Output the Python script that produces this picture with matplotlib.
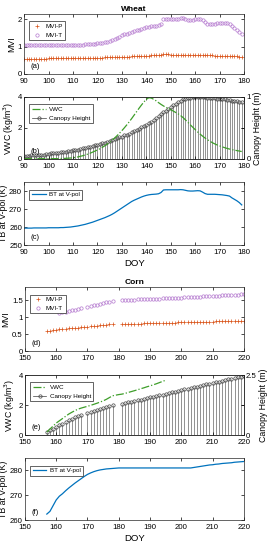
import numpy as np
import matplotlib
matplotlib.use('Agg')
import matplotlib.pyplot as plt
from matplotlib.lines import Line2D

plt.rcParams['font.family'] = ['Liberation Sans', 'DejaVu Sans']
plt.rcParams['xtick.direction'] = 'in'
plt.rcParams['ytick.direction'] = 'in'
plt.rcParams['xtick.major.size'] = 2
plt.rcParams['ytick.major.size'] = 2
plt.rcParams['xtick.major.width'] = 0.5
plt.rcParams['ytick.major.width'] = 0.5
plt.rcParams['axes.linewidth'] = 0.5
plt.rcParams['axes.edgecolor'] = '#262626'

nan = np.nan

# ---------------- Wheat (DOY 90..179) ----------------
wheat_doy = np.arange(90, 180)
wheat_mvi_p = [
    0.56, 0.56, 0.56, 0.56, 0.56, 0.56, 0.56, 0.56, 0.56, 0.56,
    0.57, 0.57, 0.57, 0.57, 0.57, 0.57, 0.57, 0.57, 0.58, 0.58,
    0.58, 0.58, 0.58, 0.58, 0.59, 0.59, 0.59, 0.59, 0.59, 0.60,
    0.60, 0.60, 0.60, 0.61, 0.61, 0.61, 0.62, 0.62, 0.62, 0.63,
    0.63, 0.63, 0.64, 0.64, 0.65, 0.65, 0.65, 0.66, 0.66, 0.67,
    0.67, 0.67, 0.68, 0.68, 0.68, 0.69, 0.69, 0.72, 0.72, 0.72,
    0.71, 0.71, 0.71, 0.71, 0.71, 0.71, 0.71, 0.70, 0.70, 0.70,
    0.70, 0.70, 0.70, 0.69, 0.69, 0.68, 0.68, 0.68, 0.67, 0.67,
    0.67, 0.67, 0.67, 0.66, 0.66, 0.66, 0.65, 0.65, 0.64, 0.63]
wheat_mvi_t = [
    1.05, 1.05, 1.05, 1.05, 1.05, 1.05, 1.05, 1.05, 1.05, 1.05,
    1.05, 1.05, 1.05, 1.06, 1.06, 1.06, 1.06, 1.07, 1.07, 1.07,
    1.07, 1.07, 1.08, 1.08, 1.08, 1.09, 1.09, 1.09, 1.10, 1.10,
    1.13, 1.14, 1.15, 1.16, 1.18, 1.22, 1.25, 1.29, 1.33, 1.37,
    1.42, 1.45, 1.48, 1.51, 1.54, 1.57, 1.60, 1.63, 1.66, 1.69,
    1.72, 1.74, 1.75, 1.76, 1.77, 1.78, 1.82, 2.03, 2.03, 2.02,
    2.02, 2.02, 2.02, 2.03, 2.04, 2.05, 2.02, 1.99, 1.97, 1.98,
    2.00, 2.02, 2.03, 1.97, 1.90, 1.84, 1.83, 1.83, 1.85, 1.87,
    1.88, 1.88, 1.87, 1.86, 1.84, 1.75, 1.68, 1.62, 1.55, 1.47]
wheat_vwc = [
    0.02, 0.02, 0.02, 0.02, 0.02, 0.02, 0.02, 0.02, 0.02, 0.02,
    0.02, 0.02, 0.02, 0.02, 0.02, 0.03, 0.03, 0.04, 0.05, 0.06,
    0.08, 0.10, 0.13, 0.17, 0.21, 0.26, 0.31, 0.37, 0.44, 0.51,
    0.58, 0.66, 0.75, 0.85, 0.96, 1.08, 1.21, 1.35, 1.50, 1.66,
    1.83, 2.01, 2.20, 2.40, 2.61, 2.83, 3.05, 3.27, 3.48, 3.68,
    3.85, 3.95, 3.93, 3.85, 3.75, 3.63, 3.52, 3.42, 3.33, 3.25,
    3.17, 3.09, 3.00, 2.91, 2.80, 2.67, 2.52, 2.36, 2.20, 2.04,
    1.89, 1.74, 1.60, 1.47, 1.35, 1.24, 1.14, 1.05, 0.97, 0.90,
    0.84, 0.78, 0.73, 0.68, 0.64, 0.60, 0.57, 0.54, 0.51, 0.48]
wheat_height = [
    0.05, 0.05, 0.05, 0.06, 0.06, 0.06, 0.07, 0.07, 0.07, 0.08,
    0.08, 0.09, 0.09, 0.10, 0.10, 0.11, 0.11, 0.12, 0.13, 0.13,
    0.14, 0.15, 0.15, 0.16, 0.17, 0.18, 0.19, 0.20, 0.21, 0.22,
    0.23, 0.24, 0.25, 0.26, 0.28, 0.29, 0.30, 0.32, 0.33, 0.35,
    0.36, 0.38, 0.39, 0.41, 0.43, 0.45, 0.47, 0.49, 0.51, 0.53,
    0.55, 0.58, 0.60, 0.63, 0.66, 0.69, 0.72, 0.75, 0.78, 0.81,
    0.84, 0.87, 0.89, 0.92, 0.94, 0.96, 0.97, 0.98, 0.99, 1.00,
    1.00, 1.00, 1.00, 1.00, 1.00, 0.99, 0.99, 0.98, 0.98, 0.97,
    0.97, 0.96, 0.96, 0.95, 0.95, 0.94, 0.94, 0.93, 0.92, 0.92]
wheat_bt = [
    259.4, 259.4, 259.4, 259.4, 259.5, 259.5, 259.5, 259.5, 259.5, 259.5,
    259.6, 259.6, 259.6, 259.6, 259.6, 259.7, 259.7, 259.8, 259.9, 260.0,
    260.2, 260.4, 260.6, 260.9, 261.2, 261.5, 261.9, 262.3, 262.7, 263.2,
    263.7, 264.2, 264.7, 265.2, 265.8, 266.4, 267.1, 267.9, 268.8, 269.7,
    270.6, 271.5, 272.4, 273.3, 274.2, 274.9, 275.5, 276.1, 276.7, 277.2,
    277.6, 277.9, 278.1, 278.2, 278.3, 278.5, 279.2, 280.6, 280.7, 280.7,
    280.7, 280.7, 280.7, 280.7, 280.8, 280.7, 280.4, 280.1, 280.0, 280.0,
    280.1, 280.2, 280.1, 279.4, 278.6, 278.2, 278.2, 278.2, 278.2, 278.1,
    278.0, 277.9, 277.7, 277.5, 277.2, 276.2, 275.4, 274.6, 273.6, 272.3]

# ---------------- Corn (DOY 157..220) ----------------
corn_doy = np.arange(157, 221)
corn_mvi_p = [
    0.58, 0.59, 0.61, 0.63,
    0.64, 0.65, 0.66, 0.67, 0.68, 0.69, 0.69, 0.70, 0.71, 0.72,
    0.73, 0.74, 0.75, 0.76, 0.77, 0.78, 0.79, 0.80, nan, nan,
    0.80, 0.80, 0.80, 0.81, 0.81, 0.81, 0.81, 0.82, 0.82, 0.82,
    0.82, 0.83, 0.83, 0.83, 0.84, 0.84, 0.84, 0.84, 0.85, 0.85,
    0.85, 0.85, 0.86, 0.86, 0.86, 0.86, 0.87, 0.87, 0.87, 0.87,
    0.88, 0.88, 0.88, 0.88, 0.89, 0.89, 0.89, 0.89, 0.90, 0.90]
corn_mvi_t = [
    nan, nan, nan, nan,
    1.13, 1.15, 1.17, 1.19, 1.21, 1.23, 1.25, 1.27, nan, 1.32,
    1.34, 1.36, 1.38, 1.40, 1.42, 1.44, 1.46, 1.48, nan, nan,
    1.51, 1.51, 1.52, 1.52, 1.52, 1.53, 1.53, 1.54, 1.54, 1.54,
    1.55, 1.55, 1.55, 1.56, 1.56, 1.57, 1.57, 1.57, 1.58, 1.58,
    1.59, 1.59, 1.60, 1.60, 1.61, 1.61, 1.62, 1.62, 1.63, 1.63,
    1.64, 1.64, 1.65, 1.65, 1.66, 1.66, 1.67, 1.67, 1.68, 1.69]
corn_vwc = [
    0.20, 0.40, 0.60, 0.80,
    0.95, 1.10, 1.25, 1.40, 1.52, 1.63, 1.73, 1.80, 1.86, 1.92,
    1.98, 2.05, 2.12, 2.20, 2.28, 2.38, 2.50, 2.62, 2.66, 2.70,
    2.73, 2.78, 2.84, 2.90, 2.96, 3.02, 3.09, 3.15, 3.22, 3.28,
    3.35, 3.42, 3.50, 3.58, 3.66, nan, nan, nan, nan, nan,
    nan, nan, nan, nan, nan, nan, nan, nan, nan, nan,
    nan, nan, nan, nan, nan, nan, nan, nan, nan, nan]
corn_height = [
    0.14, 0.20, 0.27, 0.34,
    0.41, 0.48, 0.55, 0.62, 0.68, 0.74, 0.80, 0.85, nan, 0.93,
    0.97, 1.01, 1.05, 1.09, 1.13, 1.17, 1.21, 1.26, nan, nan,
    1.30, 1.33, 1.36, 1.39, 1.42, 1.45, 1.48, 1.51, 1.54, 1.57,
    1.60, 1.63, 1.66, 1.69, 1.72, 1.75, 1.78, 1.81, 1.84, 1.87,
    1.90, 1.93, 1.96, 1.99, 2.02, 2.05, 2.08, 2.11, 2.14, 2.17,
    2.20, 2.23, 2.26, 2.29, 2.32, 2.35, 2.38, 2.41, 2.44, 2.47]
corn_bt = [
    262.4, 263.5, 265.8, 268.1,
    269.6, 270.6, 271.8, 272.9, 273.9, 274.9, 275.8, 276.7, 277.6, 278.4,
    279.0, 279.5, 279.9, 280.2, 280.4, 280.6, 280.7, 280.8, 280.9, 281.0,
    281.0, 281.0, 281.0, 281.0, 281.0, 281.0, 281.0, 281.0, 281.0, 281.0,
    281.0, 281.0, 281.0, 281.0, 281.0, 281.0, 281.0, 281.0, 281.0, 281.0,
    281.0, 281.0, 281.0, 281.2, 281.4, 281.6, 281.8, 282.0, 282.2, 282.3,
    282.5, 282.6, 282.8, 282.9, 283.0, 283.1, 283.3, 283.4, 283.5, 283.6]

C_P = '#D95319'
C_T = '#B57ACF'
C_VWC = '#3E9E2A'
C_BT = '#0072BD'
C_H = '#404040'
TFS = 5.6
LFS = 6.3
LEGFS = 4.5

fig = plt.figure(figsize=(2.71, 5.5), dpi=100)


def style(ax):
    ax.tick_params(labelsize=TFS, pad=1.5, top=True, right=True, length=2)
    ax.tick_params(axis='x', pad=2.8)
    for s in ax.spines.values():
        s.set_linewidth(0.5)


def panel_label(ax, txt):
    ax.text(0.03, 0.06, txt, transform=ax.transAxes, fontsize=5.5, ha='left', va='bottom')


def make_legend(ax, *args, hl=1.8):
    leg = ax.legend(*args, loc='upper left', fontsize=LEGFS, frameon=True, fancybox=False,
                    edgecolor='#262626', borderpad=0.4, handlelength=hl,
                    handletextpad=0.5, labelspacing=0.5, bbox_to_anchor=(0.01, 0.93),
                    framealpha=1)
    leg.get_frame().set_linewidth(0.5)
    return leg


def mvi_panel(pos, doy, p, t, xlim, xticks, ylim, yticks, ylabels, label, title):
    ax = fig.add_axes(pos)
    ax.plot(doy, p, linestyle='none', marker='+', ms=2.3, mew=0.5, color=C_P, label='MVI-P')
    ax.plot(doy, t, linestyle='none', marker='o', ms=2.4, mew=0.5, mfc='none', color=C_T, label='MVI-T')
    ax.set_xlim(*xlim)
    ax.set_ylim(*ylim)
    ax.set_xticks(xticks)
    ax.set_yticks(yticks)
    ax.set_yticklabels(ylabels)
    ax.set_ylabel('MVI', fontsize=LFS, labelpad=1)
    ax.set_title(title, fontsize=6, fontweight='bold', pad=2.5)
    style(ax)
    make_legend(ax, hl=1.6)
    panel_label(ax, label)
    return ax


def vwc_panel(pos, doy, vwc, height, xlim, xticks, hmax, hticks, hlabels, label):
    ax = fig.add_axes(pos)
    ax2 = ax.twinx()
    ax2.vlines(doy, 0, height, color=C_H, linewidth=0.4)
    ax2.plot(doy, height, linestyle='none', marker='o', ms=2.4, mew=0.5, mfc='none', color=C_H)
    ax.plot(doy, vwc, linestyle='-.', linewidth=0.9, color=C_VWC)
    ax.set_zorder(ax2.get_zorder() + 1)
    ax.patch.set_visible(False)
    ax.set_xlim(*xlim)
    ax.set_ylim(0, 4)
    ax.set_xticks(xticks)
    ax.set_yticks([0, 2, 4])
    ax2.set_ylim(0, hmax)
    ax2.set_yticks(hticks)
    ax2.set_yticklabels(hlabels)
    ax.set_ylabel('VWC (kg/m$^3$)', fontsize=LFS, labelpad=1)
    ax2.set_ylabel('Canopy Height (m)', fontsize=LFS, labelpad=1.5)
    style(ax)
    ax2.tick_params(labelsize=TFS, pad=1.5, length=2, direction='in')
    for s in ax2.spines.values():
        s.set_linewidth(0.5)
    handles = [Line2D([], [], linestyle='-.', linewidth=0.9, color=C_VWC),
               Line2D([], [], linestyle='-', linewidth=0.5, color=C_H, marker='o',
                      ms=2.4, mew=0.5, mfc='none')]
    make_legend(ax, handles, ['VWC', 'Canopy Height'], hl=2.2)
    panel_label(ax, label)
    return ax


def bt_panel(pos, doy, bt, xlim, xticks, ylim, yticks, label):
    ax = fig.add_axes(pos)
    ax.plot(doy, bt, linewidth=0.9, color=C_BT, label='BT at V-pol')
    ax.set_xlim(*xlim)
    ax.set_ylim(*ylim)
    ax.set_xticks(xticks)
    ax.set_yticks(yticks)
    ax.set_ylabel('TB at V-pol (K)', fontsize=LFS, labelpad=1)
    ax.set_xlabel('DOY', fontsize=6.8, labelpad=2)
    style(ax)
    make_legend(ax, hl=2.2)
    panel_label(ax, label)
    return ax


wx = (90, 180)
wxt = list(range(90, 181, 10))
cx = (150, 220)
cxt = list(range(150, 221, 10))

mvi_panel([0.089, 0.8655, 0.812, 0.109], wheat_doy, wheat_mvi_p, wheat_mvi_t, wx, wxt,
          (0, 2.2), [0, 1, 2], ['0', '1', '2'], '(a)', 'Wheat')
vwc_panel([0.089, 0.711, 0.812, 0.1127], wheat_doy, wheat_vwc, wheat_height, wx, wxt,
          1.0, [0, 0.5, 1], ['0', '', '1'], '(b)')
bt_panel([0.089, 0.5545, 0.812, 0.1145], wheat_doy, wheat_bt, wx, wxt,
         (250, 285), [250, 260, 270, 280], '(c)')

mvi_panel([0.092, 0.3618, 0.808, 0.1164], corn_doy, corn_mvi_p, corn_mvi_t, cx, cxt,
          (0, 1.9), [0, 0.5, 1, 1.5], ['0', '0.5', '1', '1.5'], '(d)', 'Corn')
vwc_panel([0.092, 0.209, 0.808, 0.109], corn_doy, corn_vwc, corn_height, cx, cxt,
          2.5, [0, 1.25, 2.5], ['0', '', '2.5'], '(e)')
bt_panel([0.092, 0.0545, 0.808, 0.1127], corn_doy, corn_bt, cx, cxt,
         (260, 285), [260, 270, 280], '(f)')

fig.savefig('out.png', dpi=100)
